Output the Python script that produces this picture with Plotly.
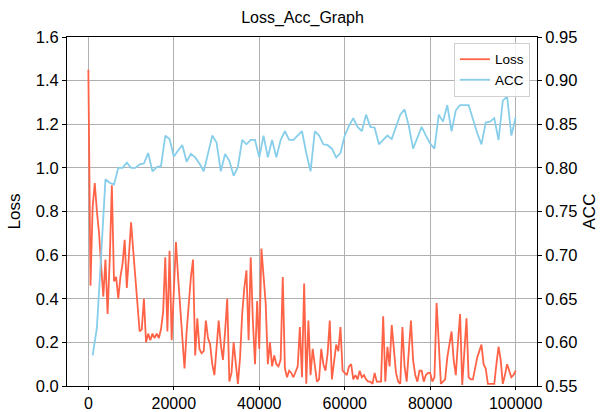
import plotly.graph_objects as go

# ---------------- data ----------------
loss_steps = list(range(0, 100001, 500))
loss_values = [
    1.45, 0.46, 0.82, 0.93, 0.80, 0.70, 0.55, 0.41, 0.58, 0.33, 0.58, 0.92, 0.48, 0.50, 0.40, 0.50,
    0.56, 0.67, 0.45, 0.62, 0.75, 0.62, 0.50, 0.40, 0.25, 0.26, 0.40, 0.20, 0.24, 0.21, 0.24,
    0.22, 0.24, 0.22, 0.26, 0.34, 0.59, 0.25, 0.62, 0.21, 0.45, 0.66, 0.50, 0.35, 0.25, 0.08, 0.25,
    0.40, 0.50, 0.58, 0.14, 0.31, 0.17, 0.15, 0.16, 0.30, 0.22, 0.19, 0.10, 0.05, 0.19, 0.30, 0.19,
    0.12, 0.25, 0.40, 0.02, 0.06, 0.20, 0.09, 0.01, 0.13, 0.33, 0.45, 0.53, 0.21, 0.59, 0.30, 0.10,
    0.39, 0.17, 0.63, 0.50, 0.38, 0.10, 0.20, 0.09, 0.14, 0.10, 0.09, 0.12, 0.50, 0.08, 0.04, 0.07,
    0.06, 0.04,
    0.07, 0.09, 0.27, 0.04, 0.47, 0.01, 0.30, 0.05, 0.17, 0.09, 0.02, 0.03, 0.17, 0.10, 0.07, 0.15,
    0.30, 0.03, 0.12, 0.19, 0.16, 0.27, 0.07, 0.06, 0.05, 0.09, 0.10, 0.03, 0.05, 0.03, 0.07, 0.04,
    0.05,
    0.03, 0.02, 0.02, 0.01, 0.06, 0.02, 0.02, 0.02, 0.32, 0.02, 0.18, 0.09, 0.28, 0.17, 0.06, 0.02,
    0.01, 0.27, 0.09, 0.02, 0.17, 0.30, 0.12, 0.05, 0.02, 0.07, 0.07, 0.02, 0.05, 0.06, 0.06, 0.02,
    0.04, 0.38, 0.20, 0.01, 0.02, 0.03, 0.13, 0.20, 0.25, 0.12, 0.05, 0.20, 0.33, 0.005, 0.15, 0.31,
    0.04, 0.03, 0.03, 0.08, 0.13, 0.16, 0.19, 0.10, 0.08, 0.01, 0.01, 0.01, 0.01, 0.10, 0.18, 0.12,
    0.01, 0.05, 0.10, 0.07, 0.04, 0.05, 0.07,
]

acc_steps = list(range(1000, 100001, 1000))
acc_values = [
    0.585, 0.617, 0.700, 0.787, 0.783, 0.781, 0.800, 0.800, 0.806, 0.800,
    0.800, 0.804, 0.805, 0.817, 0.796, 0.801, 0.802, 0.837, 0.833, 0.813,
    0.820, 0.826, 0.807, 0.816, 0.812, 0.805, 0.796, 0.815, 0.837, 0.829,
    0.796, 0.816, 0.808, 0.791, 0.801, 0.832, 0.827, 0.832, 0.832, 0.812,
    0.837, 0.812, 0.832, 0.812, 0.832, 0.842, 0.832, 0.832, 0.837, 0.842,
    0.817, 0.796, 0.842, 0.837, 0.827, 0.826, 0.822, 0.812, 0.817, 0.837,
    0.848, 0.857, 0.847, 0.842, 0.861, 0.847, 0.846, 0.827, 0.832, 0.837,
    0.833, 0.848, 0.861, 0.867, 0.848, 0.822, 0.835, 0.847, 0.837, 0.828,
    0.822, 0.861, 0.853, 0.872, 0.842, 0.866, 0.872, 0.872, 0.872, 0.856,
    0.840, 0.827, 0.852, 0.853, 0.857, 0.832, 0.877, 0.882, 0.837, 0.858,
]

x_ticks = [0, 20000, 40000, 60000, 80000, 100000]
loss_ticks = [0.0, 0.2, 0.4, 0.6, 0.8, 1.0, 1.2, 1.4, 1.6]
acc_ticks = [0.55, 0.60, 0.65, 0.70, 0.75, 0.80, 0.85, 0.90, 0.95]

# ---------------- figure ----------------
FONT = "Liberation Sans, Arial, sans-serif"
fig = go.Figure()
fig.add_trace(go.Scatter(x=loss_steps, y=loss_values, mode="lines", name="Loss",
                         line=dict(color="#FF6347", width=1.8), yaxis="y"))
fig.add_trace(go.Scatter(x=acc_steps, y=acc_values, mode="lines", name="ACC",
                         line=dict(color="#87CEEB", width=1.8), yaxis="y2"))

fig.update_layout(
    width=605, height=412,
    margin=dict(l=67, r=68, t=37, b=26, autoexpand=False),
    paper_bgcolor="white", plot_bgcolor="white",
    font=dict(family=FONT, size=16, color="black"),
    title=dict(text="Loss_Acc_Graph", x=0.5, xanchor="center", y=0.958, yanchor="middle",
               automargin=False,
               font=dict(family=FONT, size=16, color="black")),
    xaxis=dict(range=[-5000, 105000], tickvals=x_ticks, ticktext=[str(v) for v in x_ticks],
               automargin=False,
               showgrid=True, gridcolor="#b0b0b0", gridwidth=1, zeroline=False,
               showline=True, linecolor="black", linewidth=1, mirror=True,
               ticks="outside", ticklen=3, tickcolor="black",
               tickfont=dict(size=16)),
    yaxis=dict(range=[0, 1.6], tickvals=loss_ticks, ticktext=[f"{v:.1f}" for v in loss_ticks],
               automargin=False,
               title=dict(text="Loss", font=dict(size=17), standoff=10),
               showgrid=True, gridcolor="#b0b0b0", gridwidth=1, zeroline=False,
               showline=True, linecolor="black", linewidth=1,
               ticks="outside", ticklen=4, tickcolor="black",
               tickfont=dict(size=16.5)),
    yaxis2=dict(range=[0.55, 0.95], tickvals=acc_ticks, ticktext=[f"{v:.2f}" for v in acc_ticks],
                overlaying="y", side="right", automargin=False,
                title=dict(text="ACC", font=dict(size=17), standoff=6),
                showgrid=False, zeroline=False,
                showline=True, linecolor="black", linewidth=1,
                ticks="outside", ticklen=4, tickcolor="black",
                tickfont=dict(size=16.5)),
    legend=dict(x=0.985, y=0.983, xanchor="right", yanchor="top",
                bgcolor="rgba(255,255,255,0.85)", bordercolor="#d0d0d0", borderwidth=1,
                font=dict(size=13.5), itemwidth=30, tracegroupgap=0),
    showlegend=True,
)

fig.write_html("out.html", config={"displayModeBar": False},
               post_script="document.body.style.margin='0';")
